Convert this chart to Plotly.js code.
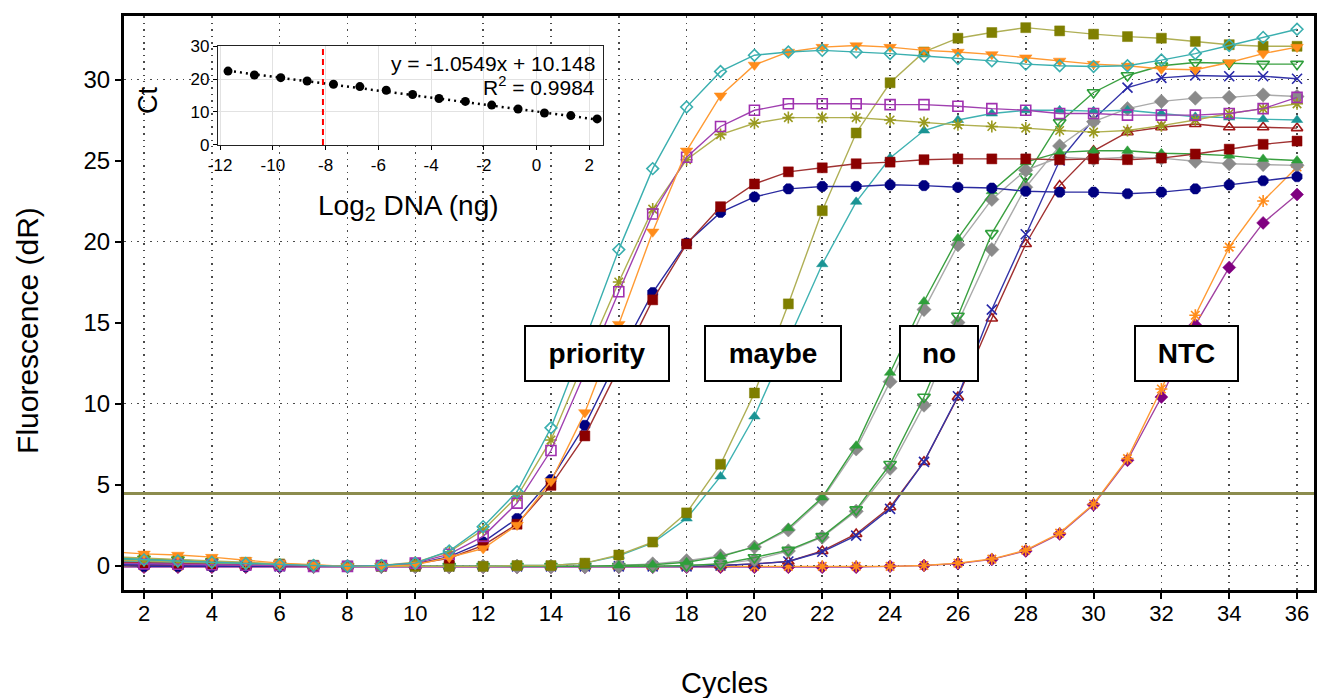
<!DOCTYPE html>
<html><head><meta charset="utf-8">
<script src="https://cdn.plot.ly/plotly-3.0.1.min.js"></script>
<style>html,body{margin:0;padding:0;background:#fff}#chart{width:1325px;height:698px}</style>
</head><body><div id="chart"></div>
<script>
// ---------------- DATA ----------------
const cycles = [1,2,3,4,5,6,7,8,9,10,11,12,13,14,15,16,17,18,19,20,21,22,23,24,25,26,27,28,29,30,31,32,33,34,35,36];

// "priority" group
const tealDiamond = [0.45,0.35,0.28,0.2,0.12,0.05,0.0,-0.05,0.0,0.15, 0.9,2.4,4.55,8.5,13.9,19.5,24.5,28.3,30.5,31.5, 31.7,31.8,31.7,31.6,31.45,31.3,31.15,30.95,30.85,30.8, 30.85,31.2,31.6,32.1,32.6,33.1];
const orangeTriangle = [0.85,0.72,0.65,0.52,0.33,0.15,0.05,-0.05,-0.05,0.05, 0.5,1.05,2.5,5.2,9.45,14.9,20.6,25.6,29.0,30.9, 31.7,32.0,32.1,32.0,31.8,31.7,31.55,31.35,31.15,30.95, 30.85,30.65,30.6,31.05,31.6,32.0];
const purpleSquare = [0.15,0.1,0.08,0.05,0.02,0.0,-0.05,-0.05,0.0,0.15, 0.7,1.8,3.85,7.1,11.9,16.9,21.7,25.2,27.1,28.1, 28.5,28.5,28.5,28.45,28.45,28.35,28.2,28.1,27.9,27.9, 27.8,27.8,27.8,27.9,28.2,28.9];
const oliveStar = [0.35,0.3,0.25,0.2,0.12,0.05,0.0,-0.05,0.0,0.2, 0.85,2.2,4.25,7.75,12.7,17.5,22.0,25.05,26.6,27.3, 27.65,27.65,27.65,27.5,27.35,27.2,27.1,27.0,26.85,26.75, 26.85,27.15,27.5,27.9,28.2,28.5];
const redSquare = [0.2,0.15,0.12,0.08,0.05,0.0,-0.05,-0.05,0.0,0.1, 0.45,1.25,2.55,4.95,8.0,12.2,16.4,19.85,22.15,23.55, 24.3,24.55,24.8,24.9,25.05,25.1,25.1,25.1,25.05,25.1, 25.05,25.15,25.4,25.7,26.0,26.2];
const navyDot = [0.0,-0.05,-0.05,-0.05,-0.05,-0.05,-0.05,-0.05,0.0,0.1, 0.55,1.45,2.9,5.3,8.65,12.9,16.85,19.9,21.8,22.75, 23.25,23.4,23.4,23.5,23.45,23.35,23.3,23.1,23.05,23.05, 22.95,23.05,23.25,23.5,23.75,24.0];
// "maybe" group
const oliveSquare = [0.55,0.45,0.35,0.28,0.2,0.1,0.02,-0.05,-0.05,-0.05, -0.05,-0.05,0.0,0.0,0.15,0.65,1.45,3.25,6.25,10.65, 16.15,21.9,26.7,29.8,31.7,32.55,32.9,33.2,33.0,32.8, 32.65,32.55,32.35,32.15,32.05,32.05];
const tealTriangle = [0.3,0.25,0.2,0.15,0.1,0.05,0.0,-0.05,-0.05,-0.05, -0.05,-0.05,0.0,0.0,0.15,0.6,1.4,2.9,5.5,9.2, 13.9,18.6,22.45,25.15,26.85,27.5,27.9,28.1,28.1,28.05, 28.1,27.9,27.7,27.65,27.55,27.5];
// "no" group
const greenTriangle = [0.4,0.35,0.3,0.22,0.15,0.08,0.02,-0.05,-0.05,-0.05, -0.05,-0.05,-0.05,-0.05,-0.05,0.0,0.05,0.2,0.55,1.15, 2.3,4.2,7.4,11.9,16.3,20.2,23.1,24.9,25.5,25.6, 25.6,25.45,25.4,25.3,25.1,25.0];
const grayDiamondA = [0.25,0.2,0.15,0.1,0.05,0.0,-0.05,-0.05,-0.05,-0.05, -0.05,-0.05,-0.05,-0.05,-0.05,0.0,0.1,0.3,0.6,1.15, 2.2,4.1,7.2,11.35,15.8,19.8,22.6,24.4,25.2,25.1, 25.2,25.15,24.95,24.8,24.75,24.7];
const greenOpenTriangle = [0.45,0.4,0.35,0.25,0.15,0.05,0.0,-0.05,-0.05,-0.05, -0.05,-0.05,-0.05,-0.05,-0.05,-0.05,-0.05,0.0,0.1,0.5, 0.95,1.8,3.45,6.25,10.4,15.4,20.5,24.0,27.35,29.2, 30.25,30.85,31.05,31.0,30.95,30.95];
const grayDiamondB = [0.2,0.15,0.1,0.08,0.05,0.0,-0.05,-0.05,-0.05,-0.05, -0.05,-0.05,-0.05,-0.05,-0.05,-0.05,-0.05,0.0,0.1,0.35, 0.9,1.75,3.35,6.0,9.9,15.0,19.5,23.35,25.9,27.4, 28.2,28.65,28.85,28.9,29.05,28.95];
const navyCross = [0.1,0.05,0.05,0.0,0.0,-0.05,-0.05,-0.05,-0.05,-0.05, -0.05,-0.05,-0.05,-0.05,-0.05,-0.05,-0.05,-0.05,0.0,0.1, 0.25,0.85,1.85,3.5,6.4,10.45,15.8,20.45,25.0,27.55, 29.5,30.1,30.25,30.2,30.2,30.05];
const redOpenTriangle = [0.05,0.0,0.0,-0.05,-0.05,-0.05,-0.05,-0.05,-0.05,-0.05, -0.05,-0.05,-0.05,-0.05,-0.05,-0.05,-0.05,-0.05,0.0,0.1, 0.25,0.9,1.95,3.6,6.4,10.4,15.25,19.85,23.45,25.6, 26.75,27.05,27.25,27.05,27.05,27.0];
// NTC
const ntcOrange = [-0.05,-0.05,-0.05,-0.05,-0.05,-0.05,-0.05,-0.05,-0.05,-0.05, -0.05,-0.05,-0.05,-0.05,-0.05,-0.05,-0.05,-0.05,-0.05,-0.05, -0.05,-0.05,-0.05,-0.05,0.0,0.15,0.4,0.95,2.0,3.8, 6.6,10.9,15.45,19.65,22.5,24.6];
const ntcPurple = [-0.1,-0.1,-0.1,-0.1,-0.1,-0.1,-0.1,-0.1,-0.1,-0.1, -0.1,-0.1,-0.1,-0.1,-0.1,-0.1,-0.1,-0.1,-0.1,-0.1, -0.1,-0.1,-0.1,-0.05,0.0,0.12,0.38,0.9,1.95,3.75, 6.5,10.4,14.85,18.4,21.15,22.9];

const threshold = 4.45;

// Inset standard curve
const log2DNA = [-11.7,-10.7,-9.7,-8.7,-7.7,-6.7,-5.7,-4.7,-3.7,-2.7,-1.7,-0.7,0.3,1.3,2.3];
const ctValues = [22.4,21.2,20.4,19.4,18.4,17.7,16.6,15.3,14.1,13.2,12.1,10.9,9.7,8.9,7.9];
const fitSlope = -1.0549, fitIntercept = 10.148, fitR2 = 0.9984;
const ctCutoff = -8.1;
const insetXTicks = [-12,-10,-8,-6,-4,-2,0,2];

const groupLabels = ['priority','maybe','no','NTC'];
const groupLabelX = [15.36, 20.55, 25.44, 32.73];
const groupLabelW = [142, 134, 76, 101];
const xTickVals = [2,4,6,8,10,12,14,16,18,20,22,24,26,28,30,32,34,36];

// ---------------- STYLE ----------------
const FONT = 'Arial, "Liberation Sans", sans-serif';
function curve(y, symbol, mColor, lColor, size, open) {
  const m = {symbol: symbol, size: size, color: mColor,
             line: {color: mColor, width: open ? 1.6 : 0.5}};
  return {type:'scatter', mode:'lines+markers', x: cycles, y: y,
          xaxis:'x', yaxis:'y', hoverinfo:'skip', showlegend:false,
          line:{color:lColor, width:1.4}, marker:m};
}

const traces = [
  curve(ntcPurple, 'diamond', '#800080', '#A040A0', 10, false),
  curve(ntcOrange, 'asterisk-open', '#FF8C1A', '#FF9A33', 10, true),
  curve(redOpenTriangle, 'triangle-up-open', '#A01818', '#A03030', 10, true),
  curve(navyCross, 'x-thin-open', '#2828A8', '#3434A8', 10, true),
  curve(grayDiamondB, 'diamond', '#8A8A8A', '#AAAAAA', 11, false),
  curve(greenOpenTriangle, 'triangle-down-open', '#2E9E3A', '#3AA040', 11, true),
  curve(grayDiamondA, 'diamond', '#8A8A8A', '#AAAAAA', 11, false),
  curve(greenTriangle, 'triangle-up', '#2E9E3A', '#3AA040', 10, false),
  curve(tealTriangle, 'triangle-up', '#1A9494', '#3FB2B2', 10, false),
  curve(oliveSquare, 'square', '#7F7F00', '#AFAF55', 10, false),
  curve(navyDot, 'octagon', '#000080', '#2A2AA0', 11, false),
  curve(redSquare, 'square', '#8B0000', '#A03232', 10, false),
  curve(oliveStar, 'asterisk-open', '#9A9A20', '#B0B050', 10, true),
  curve(purpleSquare, 'square-open', '#A030B0', '#A040B0', 10, true),
  curve(orangeTriangle, 'triangle-down', '#FF8C1A', '#FF9A33', 11, false),
  curve(tealDiamond, 'diamond-open', '#3AAFAF', '#3AAFAF', 9, true)
];

const xRange = [1.41, 36.5];
const yRange = [-1.51, 33.92];

// threshold line (on the grid overlay axis)
traces.unshift({type:'scatter', mode:'lines', x:[xRange[0], xRange[1]], y:[threshold, threshold],
  xaxis:'x', yaxis:'y4', hoverinfo:'skip', showlegend:false, line:{color:'#8C8C4E', width:3}});

// inset: fit line and points
const fitX = [Math.min(...log2DNA), Math.max(...log2DNA)];
traces.push({type:'scatter', mode:'lines', x: fitX, y: fitX.map(v => fitSlope*v + fitIntercept),
  xaxis:'x3', yaxis:'y3', hoverinfo:'skip', showlegend:false,
  line:{color:'#000', width:2.5, dash:'2px,4px'}});
traces.push({type:'scatter', mode:'markers', x: log2DNA, y: ctValues,
  xaxis:'x3', yaxis:'y3', hoverinfo:'skip', showlegend:false,
  marker:{color:'#000', size:9, symbol:'circle'}});

const gridStyle = {gridcolor:'#4a4a4a', griddash:'1.5px,5px', gridwidth:1.6};

const annotations = groupLabels.map((t, i) => ({
  xref:'x', yref:'y', x: groupLabelX[i], y: 13.06, text: '<b>' + t + '</b>',
  showarrow:false, font:{family:FONT, size:28, color:'#000'},
  bgcolor:'#fff', bordercolor:'#000', borderwidth:2, borderpad:0,
  width: groupLabelW[i], height: 53, xanchor:'center', yanchor:'middle'
}));
annotations.push(
  {xref:'paper', yref:'paper', x:0.3975, y:0.918, xanchor:'right', yanchor:'middle', showarrow:false,
   text:'y = ' + fitSlope + 'x + ' + fitIntercept, font:{family:FONT, size:21, color:'#000'}},
  {xref:'paper', yref:'paper', x:0.3975, y:0.878, xanchor:'right', yanchor:'middle', showarrow:false,
   text:'R<sup>2</sup> = ' + fitR2, font:{family:FONT, size:21, color:'#000'}},
  {xref:'paper', yref:'paper', x:0.0202, y:0.852, xanchor:'center', yanchor:'middle', showarrow:false,
   text:'Ct', textangle:-90, font:{family:FONT, size:27, color:'#000'}},
  {xref:'paper', yref:'paper', x:0.2387, y:0.667, xanchor:'center', yanchor:'middle', showarrow:false,
   text:'Log<sub>2</sub> DNA (ng)', font:{family:FONT, size:28, color:'#000'}},
  {xref:'paper', yref:'paper', x:-0.0807, y:0.453, xanchor:'center', yanchor:'middle', showarrow:false,
   text:'Fluorescence (dR)', textangle:-90, font:{family:FONT, size:30, color:'#000'}},
  {xref:'paper', yref:'paper', x:0.505, y:-0.162, xanchor:'center', yanchor:'middle', showarrow:false,
   text:'Cycles', font:{family:FONT, size:29, color:'#000'}}
);

const layout = {
  width:1325, height:698,
  margin:{l:124, r:11, t:16, b:108},
  paper_bgcolor:'#fff', plot_bgcolor:'#fff',
  showlegend:false,
  font:{family:FONT, color:'#000'},
  xaxis:Object.assign({range:xRange, tickvals:xTickVals, ticks:'outside', ticklen:6, tickwidth:2, tickcolor:'#000',
    showline:true, linewidth:3, linecolor:'#000', mirror:true, showgrid:true, zeroline:false,
    tickfont:{size:22}, ticklabelstandoff:-4, fixedrange:true}, gridStyle),
  yaxis:{range:yRange, tick0:0, dtick:5, ticks:'outside', ticklen:6, tickwidth:2, tickcolor:'#000',
    showline:true, linewidth:3, linecolor:'#000', mirror:true, showgrid:false, zeroline:false,
    tickfont:{size:24}, fixedrange:true},
  yaxis4:Object.assign({overlaying:'y', range:yRange, tick0:0, dtick:10, showticklabels:false, ticks:'',
    showline:false, zeroline:false, showgrid:true, fixedrange:true}, gridStyle),
  xaxis2:{domain:[0, 0.4134], anchor:'y2', visible:false, range:[0,1], fixedrange:true},
  yaxis2:{domain:[0.6132, 1], anchor:'x2', visible:false, range:[0,1], fixedrange:true},
  xaxis3:{domain:[0.079, 0.4025], anchor:'y3', range:[-12.08, 2.52], tickvals:insetXTicks,
    ticktext:insetXTicks.map(String),
    ticks:'outside', ticklen:4, tickcolor:'#000', showline:true, linewidth:1.2, linecolor:'#222', mirror:true,
    showgrid:true, gridcolor:'#e2e2e2', gridwidth:1, zeroline:false, tickfont:{size:17}, fixedrange:true},
  yaxis3:{domain:[0.7753, 0.9477], anchor:'x3', range:[0, 30], tick0:0, dtick:10,
    ticks:'outside', ticklen:4, tickcolor:'#000', showline:true, linewidth:1.2, linecolor:'#222', mirror:true,
    showgrid:true, gridcolor:'#e2e2e2', gridwidth:1, zeroline:false, tickfont:{size:17}, fixedrange:true},
  shapes:[{type:'line', xref:'x3', yref:'y3', x0:ctCutoff, x1:ctCutoff, y0:0, y1:30,
    line:{color:'#FF0000', width:2, dash:'6px,4px'}}],
  annotations: annotations
};

Plotly.newPlot('chart', traces, layout, {displayModeBar:false, staticPlot:true});
</script>
</body></html>
